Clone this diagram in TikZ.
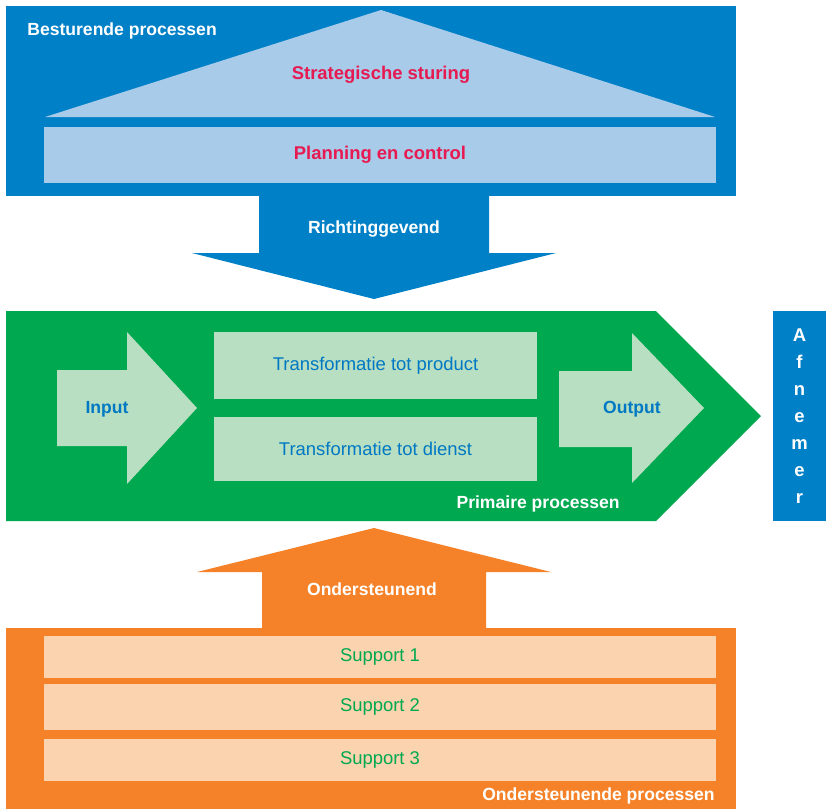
\documentclass[tikz,border=0pt]{standalone}
\usepackage{fontspec}
\setmainfont{Liberation Sans}
\usetikzlibrary{positioning}
\definecolor{stuurblauw}{RGB}{0,128,198}
\definecolor{lichtblauw}{RGB}{169,203,234}
\definecolor{karmijn}{RGB}{230,25,80}
\definecolor{primgroen}{RGB}{0,168,80}
\definecolor{lichtgroen}{RGB}{184,223,193}
\definecolor{tekstblauw}{RGB}{0,120,195}
\definecolor{steunoranje}{RGB}{245,130,40}
\definecolor{lichtoranje}{RGB}{251,212,175}
\tikzstyle{label}=[inner sep=0pt, font=\fontsize{10}{12}\selectfont\bfseries, text=white]
\tikzstyle{lane}=[rectangle, inner sep=0pt, minimum width=13.44cm]
\tikzstyle{trans}=[rectangle, inner sep=0pt, fill=lichtgroen, text=tekstblauw, minimum width=6.46cm, font=\fontsize{10.5}{12}\selectfont]
\tikzstyle{support}=[lane, fill=lichtoranje, text=primgroen, font=\fontsize{10.5}{12}\selectfont]

\begin{document}
\begin{tikzpicture}[x=0.02cm, y=-0.02cm]
            \useasboundingbox (0,0) rectangle (826,809);
            \fill[stuurblauw] (6,6) rectangle (736,196);
            \fill[lichtblauw] (45,117) -- (381,10) -- (715,117) -- cycle;
            \node[lane, fill=lichtblauw, minimum height=1.12cm, text=karmijn, font=\fontsize{10.5}{12}\selectfont\bfseries] (planning) at (380,155) {Planning en control};
            \node[label, anchor=west] (besturend) at (27,31) {Besturende processen};
            \node[label, text=karmijn, font=\fontsize{10.5}{12}\selectfont\bfseries] (strategie) at (381,75) {Strategische sturing};
            \fill[stuurblauw] (259,190) -- (489,190) -- (489,253) -- (556,253) -- (374,299) -- (192,253) -- (259,253) -- cycle;
            \node[label] (richting) at (374,229) {Richtinggevend};
            \fill[primgroen] (6,311) -- (656,311) -- (761,416) -- (656,521) -- (6,521) -- cycle;
            \fill[lichtgroen] (57,370) -- (127,370) -- (127,332) -- (197,408) -- (127,484) -- (127,446) -- (57,446) -- cycle;
            \fill[lichtgroen] (559,371) -- (632,371) -- (632,333) -- (704,408) -- (632,483) -- (632,447) -- (559,447) -- cycle;
            \node[label, text=tekstblauw] (input) at (107,409) {Input};
            \node[label, text=tekstblauw] (output) at (632,409) {Output};
            \node[trans, minimum height=1.34cm] (product) at (375.5,365.5) {Transformatie tot product};
            \node[trans, minimum height=1.28cm] (dienst) at (375.5,449) {Transformatie tot dienst};
            \node[label, anchor=east] (primair) at (620,504) {Primaire processen};
            \node[rectangle, fill=stuurblauw, minimum width=1.06cm, minimum height=4.2cm, inner sep=0pt] (afnemerbox) at (799.5,416) {};
            \node[label, align=center, font=\fontsize{10.5}{15.4}\selectfont\bfseries] (afnemer) at (afnemerbox.center) {A\\f\\n\\e\\m\\e\\r};
            \fill[steunoranje] (6,628) rectangle (736,809);
            \fill[steunoranje] (262,634) -- (262,572) -- (197,572) -- (374,528) -- (551,572) -- (486,572) -- (486,634) -- cycle;
            \node[label] (ondersteunend) at (372,589) {Ondersteunend};
            \node[support, minimum height=0.84cm] (support1) at (380,657) {Support 1};
            \node[support, minimum height=0.92cm] (support2) at (380,707) {Support 2};
            \node[support, minimum height=0.84cm] (support3) at (380,760) {Support 3};
            \node[label, anchor=east] (steunend) at (715,796) {Ondersteunende processen};
        \end{tikzpicture}
\end{document}
